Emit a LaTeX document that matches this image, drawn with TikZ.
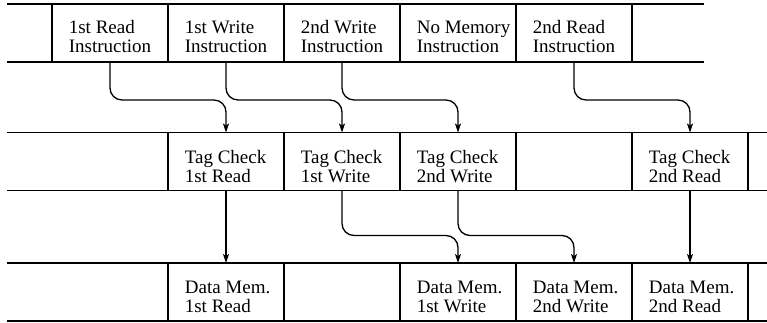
\documentclass[tikz,border=0pt]{standalone}
\usepackage{fontspec}
\setmainfont{Liberation Serif}
\usetikzlibrary{arrows.meta}
\begin{document}
\begin{tikzpicture}[x=1pt,y=-1pt,
  line width=1.7pt,
  cell/.style={draw, rectangle, minimum width=116pt, minimum height=58pt,
    inner sep=0pt, outer sep=0pt},
  txt/.style={anchor=west, align=left, inner sep=0pt,
    font=\fontsize{19}{19}\selectfont},
  conn/.style={draw, line width=1.3pt, rounded corners=12pt,
    -{Stealth[length=9pt,width=6pt,inset=2pt]}},
]
\useasboundingbox (0,0) rectangle (767,323);

% pipeline stage lanes
\draw (7,4) -- (704,4);
\draw (7,62) -- (704,62);
\draw (7,132.5) -- (767,132.5);
\draw (7,190.5) -- (767,190.5);
\draw (7,263) -- (767,263);
\draw (7,321) -- (767,321);

% instruction stage
\node[cell] (i1) at (110,33) {};
\node[cell] (i2) at (226,33) {};
\node[cell] (i3) at (342,33) {};
\node[cell] (i4) at (458,33) {};
\node[cell] (i5) at (574,33) {};

% tag check stage
\node[cell] (t1) at (226,161.5) {};
\node[cell] (t2) at (342,161.5) {};
\node[cell] (t3) at (458,161.5) {};
\node[cell] (t4) at (574,161.5) {};
\node[cell] (t5) at (690,161.5) {};

% data memory stage
\node[cell] (d1) at (226,292) {};
\node[cell] (d2) at (342,292) {};
\node[cell] (d3) at (458,292) {};
\node[cell] (d4) at (574,292) {};
\node[cell] (d5) at (690,292) {};

% labels
\node[txt] (li1) at ([xshift=16pt,yshift=-4pt]i1.west) {1st Read\\Instruction};
\node[txt] (li2) at ([xshift=16pt,yshift=-4pt]i2.west) {1st Write\\Instruction};
\node[txt] (li3) at ([xshift=16pt,yshift=-4pt]i3.west) {2nd Write\\Instruction};
\node[txt] (li4) at ([xshift=16pt,yshift=-4pt]i4.west) {No Memory\\Instruction};
\node[txt] (li5) at ([xshift=16pt,yshift=-4pt]i5.west) {2nd Read\\Instruction};

\node[txt] (lt1) at ([xshift=16pt,yshift=-5pt]t1.west) {Tag Check\\1st Read};
\node[txt] (lt2) at ([xshift=16pt,yshift=-5pt]t2.west) {Tag Check\\1st Write};
\node[txt] (lt3) at ([xshift=16pt,yshift=-5pt]t3.west) {Tag Check\\2nd Write};
\node[txt] (lt5) at ([xshift=16pt,yshift=-5pt]t5.west) {Tag Check\\2nd Read};

\node[txt] (ld1) at ([xshift=16pt,yshift=-5pt]d1.west) {Data Mem.\\1st Read};
\node[txt] (ld3) at ([xshift=16pt,yshift=-5pt]d3.west) {Data Mem.\\1st Write};
\node[txt] (ld4) at ([xshift=16pt,yshift=-5pt]d4.west) {Data Mem.\\2nd Write};
\node[txt] (ld5) at ([xshift=16pt,yshift=-5pt]d5.west) {Data Mem.\\2nd Read};

% instruction -> tag check
\draw[conn] (i1.south) -- ++(0,38) -| (t1.north);
\draw[conn] (i2.south) -- ++(0,38) -| (t2.north);
\draw[conn] (i3.south) -- ++(0,38) -| (t3.north);
\draw[conn] (i5.south) -- ++(0,38) -| (t5.north);

% tag check -> data memory
\draw[conn] (t1.south) -- (d1.north);
\draw[conn] (t2.south) -- ++(0,45) -| (d3.north);
\draw[conn] (t3.south) -- ++(0,45) -| (d4.north);
\draw[conn] (t5.south) -- (d5.north);
\end{tikzpicture}
\end{document}
